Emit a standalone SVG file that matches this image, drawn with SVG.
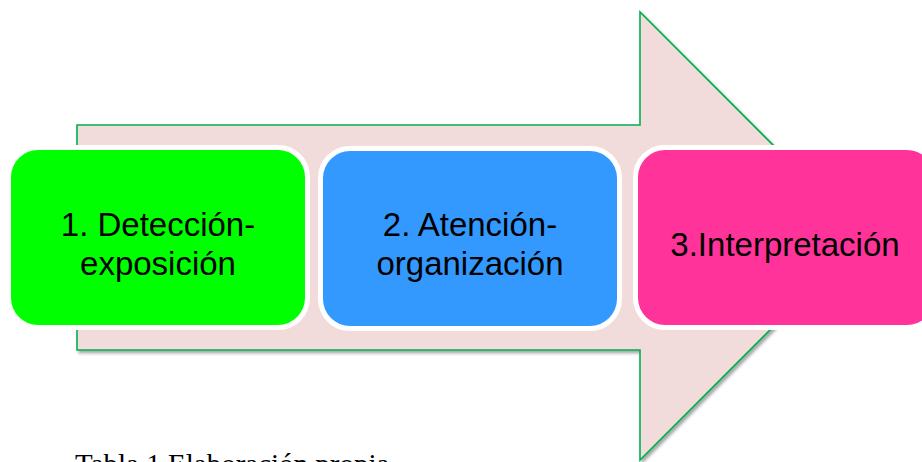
<svg xmlns="http://www.w3.org/2000/svg" width="922" height="462" viewBox="0 0 922 462">
  <defs>
    <filter id="sh" x="-5%" y="-5%" width="115%" height="115%">
      <feDropShadow dx="2" dy="2.5" stdDeviation="1.5" flood-color="#000" flood-opacity="0.35"/>
    </filter>
  </defs>
  <style>
    .box { stroke: #ffffff; stroke-width: 10; paint-order: stroke; }
    .lbl { font-family: "Liberation Sans", Arial, sans-serif; font-size: 33px; fill: #000; text-anchor: middle; }
    .cap { font-family: "Liberation Serif", "Times New Roman", serif; font-size: 29px; fill: #000; }
  </style>
  <rect width="922" height="462" fill="#ffffff"/>
  <g id="connectors">
    <polygon id="arrow" points="77,125 640,125 640,12 864,236 640,460 640,350 77,350" fill="#F2DCDB" stroke="#00B050" stroke-width="1.6" filter="url(#sh)"/>
  </g>
  <g id="node1">
    <rect class="box" x="11" y="150" width="294" height="175" rx="27" fill="#00FF00"/>
    <text class="lbl" x="158" y="236">1. Detección-</text>
    <text class="lbl" x="158" y="275">exposición</text>
  </g>
  <g id="node2">
    <rect class="box" x="323" y="151" width="294" height="175" rx="27" fill="#3399FF"/>
    <text class="lbl" x="470" y="236">2. Atención-</text>
    <text class="lbl" x="470" y="275">organización</text>
  </g>
  <g id="node3">
    <rect class="box" x="638" y="150" width="296" height="175" rx="27" fill="#FF3399"/>
    <text class="lbl" x="785" y="256">3.Interpretación</text>
  </g>
  <text class="cap" x="75" y="474">Tabla 1 Elaboración propia</text>
</svg>
